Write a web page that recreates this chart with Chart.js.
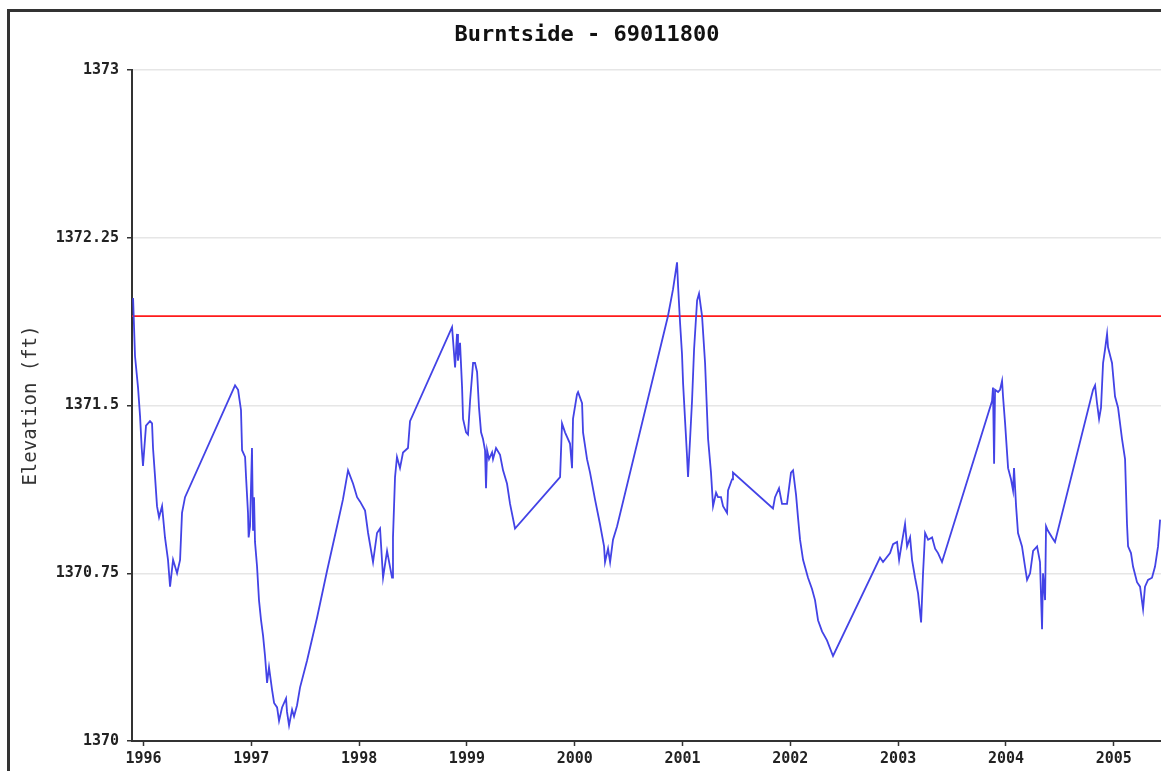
<!DOCTYPE html>
<html>
<head>
<meta charset="utf-8">
<script src="https://cdn.jsdelivr.net/npm/chart.js@4.4.1/dist/chart.umd.min.js"></script>
<style>
  html, body { margin: 0; padding: 0; background: #fff; overflow: hidden; }
  #wrap { width: 1174px; height: 771px; position: relative; }
  canvas { display: block; }
</style>
</head>
<body>
<div id="wrap"><canvas id="c" width="1174" height="771"></canvas></div>
<script>
// ---- Data (decimal year, elevation in ft) ----
const years = [
  1995.903,1995.921,1995.949,1995.968,1995.983,1995.995,1996.023,1996.060,1996.079,1996.088,
  1996.107,1996.125,1996.144,1996.172,1996.199,1996.227,1996.246,1996.274,1996.311,1996.339,
  1996.357,1996.385,1996.849,1996.877,1996.904,1996.914,1996.942,1996.951,1996.969,1996.975,
  1996.988,1997.006,1997.016,1997.025,1997.034,1997.053,1997.071,1997.090,1997.109,1997.127,
  1997.146,1997.164,1997.192,1997.211,1997.239,1997.257,1997.285,1997.322,1997.331,1997.350,
  1997.378,1997.396,1997.424,1997.452,1997.517,1997.609,1997.702,1997.795,1997.850,1997.897,
  1997.944,1997.981,1998.009,1998.055,1998.083,1998.129,1998.166,1998.194,1998.222,1998.259,
  1998.305,1998.314,1998.333,1998.351,1998.379,1998.407,1998.453,1998.472,1998.862,1998.890,
  1998.908,1998.917,1998.936,1998.955,1998.964,1998.992,1999.010,1999.029,1999.057,1999.075,
  1999.094,1999.112,1999.131,1999.149,1999.168,1999.177,1999.187,1999.205,1999.233,1999.242,
  1999.270,1999.307,1999.335,1999.372,1999.400,1999.446,1999.864,1999.882,1999.910,1999.956,
  1999.975,1999.984,2000.021,2000.031,2000.068,2000.077,2000.114,2000.142,2000.188,2000.234,
  2000.272,2000.281,2000.309,2000.328,2000.355,2000.393,2000.865,2000.912,2000.949,2000.958,
  2000.977,2000.995,2001.005,2001.023,2001.042,2001.051,2001.070,2001.088,2001.107,2001.135,
  2001.153,2001.181,2001.209,2001.237,2001.264,2001.283,2001.311,2001.329,2001.357,2001.376,
  2001.413,2001.422,2001.459,2001.468,2001.839,2001.858,2001.895,2001.923,2001.969,2002.006,
  2002.025,2002.053,2002.071,2002.090,2002.118,2002.164,2002.201,2002.229,2002.257,2002.294,
  2002.340,2002.396,2002.832,2002.860,2002.925,2002.953,2002.990,2003.009,2003.036,2003.064,
  2003.083,2003.111,2003.129,2003.157,2003.185,2003.213,2003.231,2003.250,2003.278,2003.315,
  2003.343,2003.370,2003.407,2003.871,2003.880,2003.890,2003.899,2003.927,2003.945,2003.964,
  2003.973,2003.992,2004.020,2004.047,2004.066,2004.075,2004.094,2004.112,2004.149,2004.177,
  2004.196,2004.224,2004.252,2004.289,2004.316,2004.335,2004.344,2004.363,2004.372,2004.390,
  2004.428,2004.455,2004.808,2004.827,2004.845,2004.864,2004.882,2004.901,2004.919,2004.938,
  2004.947,2004.984,2005.012,2005.040,2005.077,2005.105,2005.123,2005.133,2005.160,2005.179,
  2005.216,2005.244,2005.272,2005.290,2005.318,2005.355,2005.383,2005.411,2005.430
];
const elevation = [
  1371.98,1371.72,1371.58,1371.45,1371.31,1371.23,1371.41,1371.43,1371.42,1371.31,
  1371.18,1371.05,1371.00,1371.05,1370.91,1370.81,1370.69,1370.81,1370.75,1370.81,
  1371.02,1371.09,1371.59,1371.57,1371.48,1371.30,1371.27,1371.18,1371.02,1370.91,
  1370.96,1371.31,1370.94,1371.09,1370.89,1370.78,1370.63,1370.54,1370.47,1370.38,
  1370.26,1370.33,1370.23,1370.17,1370.15,1370.09,1370.15,1370.19,1370.13,1370.07,
  1370.14,1370.11,1370.16,1370.24,1370.36,1370.55,1370.76,1370.96,1371.08,1371.21,
  1371.15,1371.09,1371.07,1371.03,1370.93,1370.80,1370.93,1370.95,1370.73,1370.85,
  1370.73,1370.91,1371.18,1371.27,1371.22,1371.29,1371.31,1371.43,1371.85,1371.67,
  1371.82,1371.70,1371.78,1371.58,1371.44,1371.38,1371.37,1371.52,1371.69,1371.69,
  1371.65,1371.49,1371.38,1371.35,1371.30,1371.13,1371.30,1371.26,1371.29,1371.26,
  1371.31,1371.28,1371.21,1371.15,1371.06,1370.95,1371.18,1371.42,1371.38,1371.33,
  1371.22,1371.44,1371.55,1371.56,1371.51,1371.38,1371.26,1371.20,1371.08,1370.97,
  1370.87,1370.80,1370.86,1370.80,1370.90,1370.96,1371.90,1372.02,1372.14,1372.04,
  1371.87,1371.73,1371.60,1371.44,1371.27,1371.18,1371.35,1371.52,1371.75,1371.97,
  1372.00,1371.90,1371.69,1371.35,1371.20,1371.05,1371.11,1371.09,1371.09,1371.05,
  1371.02,1371.12,1371.17,1371.20,1371.04,1371.09,1371.13,1371.06,1371.06,1371.20,
  1371.21,1371.10,1371.00,1370.90,1370.81,1370.73,1370.68,1370.63,1370.54,1370.49,
  1370.45,1370.38,1370.82,1370.80,1370.84,1370.88,1370.89,1370.81,1370.89,1370.97,
  1370.87,1370.91,1370.81,1370.73,1370.66,1370.53,1370.75,1370.93,1370.90,1370.91,
  1370.86,1370.84,1370.80,1371.52,1371.58,1371.24,1371.57,1371.56,1371.57,1371.61,
  1371.54,1371.42,1371.22,1371.17,1371.12,1371.22,1371.05,1370.93,1370.87,1370.78,
  1370.72,1370.75,1370.85,1370.87,1370.80,1370.50,1370.75,1370.63,1370.96,1370.94,
  1370.91,1370.89,1371.57,1371.59,1371.51,1371.44,1371.49,1371.69,1371.75,1371.82,
  1371.76,1371.69,1371.54,1371.49,1371.35,1371.26,1370.97,1370.87,1370.84,1370.78,
  1370.71,1370.69,1370.59,1370.69,1370.72,1370.73,1370.78,1370.87,1370.99
];
const referenceLevel = 1371.9;
const xTickYears = [1996, 1997, 1998, 1999, 2000, 2001, 2002, 2003, 2004, 2005];
const yTickValues = [1370, 1370.75, 1371.5, 1372.25, 1373];
const xRange = [1995.893, 2005.559];
const yRange = [1370, 1373];
const titleText = 'Burntside - 69011800';
const yAxisTitle = 'Elevation (ft)';

const seriesPoints = years.map((x, i) => ({ x: x, y: elevation[i] }));
const refPoints = [{ x: xRange[0], y: referenceLevel }, { x: xRange[1], y: referenceLevel }];

const frame = {
  id: 'frame',
  beforeDraw(chart) {
    const c = chart.ctx;
    c.save();
    c.fillStyle = '#ffffff';
    c.fillRect(0, 0, chart.width, chart.height);
    c.restore();
  },
  afterDraw(chart) {
    const c = chart.ctx;
    c.save();
    c.fillStyle = '#333333';
    c.fillRect(7, 9, chart.width, 3);
    c.fillRect(7, 9, 3, chart.height);
    c.restore();
  }
};

const tickFont = { family: 'DejaVu Sans Mono', size: 15, weight: 'bold' };

new Chart(document.getElementById('c'), {
  type: 'line',
  data: {
    datasets: [
      {
        label: 'Elevation',
        data: seriesPoints,
        borderColor: '#4343e6',
        borderWidth: 1.8,
        pointRadius: 0,
        tension: 0,
        fill: false
      },
      {
        label: 'Reference',
        data: refPoints,
        borderColor: '#ff1a1a',
        borderWidth: 1.8,
        pointRadius: 0,
        tension: 0,
        fill: false
      }
    ]
  },
  options: {
    responsive: false,
    animation: false,
    devicePixelRatio: 1,
    layout: { padding: 0 },
    plugins: {
      legend: { display: false },
      tooltip: { enabled: false },
      title: {
        display: true,
        text: titleText,
        color: '#111111',
        font: { family: 'DejaVu Sans Mono', size: 22, weight: 'bold', lineHeight: 1.2 },
        padding: { top: 22, bottom: 21.6 }
      }
    },
    scales: {
      x: {
        type: 'linear',
        min: xRange[0],
        max: xRange[1],
        afterBuildTicks(scale) { scale.ticks = xTickYears.map(v => ({ value: v })); },
        afterFit(scale) { scale.height = 30; },
        ticks: {
          color: '#222222',
          font: tickFont,
          padding: 4,
          maxRotation: 0,
          autoSkip: false,
          callback: (v) => String(v)
        },
        grid: { drawOnChartArea: false, drawTicks: true, tickLength: 5, tickColor: '#333333', tickWidth: 1.5 },
        border: { display: true, color: '#333333', width: 2 }
      },
      y: {
        type: 'linear',
        min: yRange[0],
        max: yRange[1],
        afterBuildTicks(scale) { scale.ticks = yTickValues.map(v => ({ value: v })); },
        afterFit(scale) { scale.width = 132; },
        ticks: {
          color: '#222222',
          font: tickFont,
          padding: 8,
          autoSkip: false,
          callback: (v) => String(v)
        },
        grid: { color: '#e6e6e6', lineWidth: 1.5, drawTicks: true, tickLength: 5, tickColor: '#333333', tickWidth: 1.5 },
        border: { display: true, color: '#333333', width: 2 },
        title: {
          display: true,
          text: yAxisTitle,
          color: '#333333',
          font: { family: 'DejaVu Sans Mono', size: 19, weight: 'normal', lineHeight: 1.2 },
          padding: { top: 20, bottom: 0 }
        }
      }
    }
  },
  plugins: [frame]
});
</script>
</body>
</html>
